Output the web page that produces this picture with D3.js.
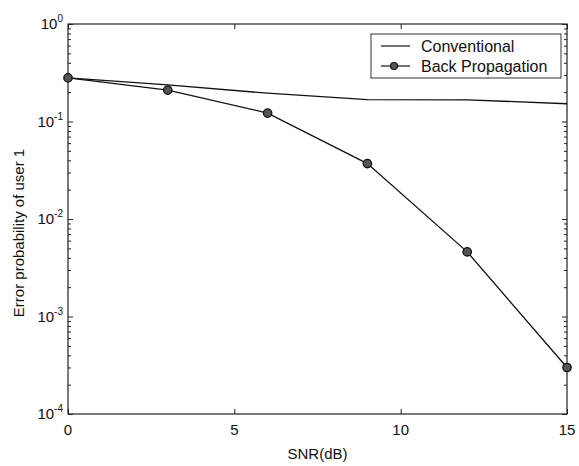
<!DOCTYPE html>
<html><head><meta charset="utf-8">
<script src="https://cdn.jsdelivr.net/npm/d3@7"></script>
<style>body{margin:0;background:#fff}svg{display:block}text{font-family:"Liberation Sans",Arial,sans-serif;fill:#111}</style>
</head><body>
<script>
const snr = [0, 3, 6, 9, 12, 15];
const conventional = [0.28, 0.237, 0.195, 0.168, 0.167, 0.152];
const backProp = [0.28, 0.21, 0.122, 0.037, 0.0046, 0.0003];
const xTicks = [0, 5, 10, 15];
const yDecades = [-4, -3, -2, -1, 0];
const seriesNames = ["Conventional", "Back Propagation"];

const W = 579, H = 466;
const m = {l: 68, r: 12, t: 24, b: 52};
const svg = d3.select("body").append("svg").attr("width", W).attr("height", H);
const x = d3.scaleLinear().domain([0, 15]).range([m.l, W - m.r]);
const y = d3.scaleLog().domain([1e-4, 1]).range([H - m.b, m.t]);

const minor = [];
for (let d = -4; d < 0; d++) for (let k = 2; k <= 9; k++) minor.push(k * Math.pow(10, d));
const majors = yDecades.map(d => Math.pow(10, d));

const g = svg.append("g");
function styleAxis(sel){ sel.select(".domain").remove(); sel.selectAll("line").attr("stroke","#222").attr("stroke-width",1); }

g.append("g").attr("transform",`translate(0,${H-m.b})`).call(d3.axisBottom(x).tickValues(xTicks).tickSize(-5).tickFormat("")).call(styleAxis);
g.append("g").attr("transform",`translate(0,${m.t})`).call(d3.axisTop(x).tickValues(xTicks).tickSize(-5).tickFormat("")).call(styleAxis);
g.append("g").attr("transform",`translate(${m.l},0)`).call(d3.axisLeft(y).tickValues(majors).tickSize(-5).tickFormat("")).call(styleAxis);
g.append("g").attr("transform",`translate(${m.l},0)`).call(d3.axisLeft(y).tickValues(minor).tickSize(-3).tickFormat("")).call(styleAxis);
g.append("g").attr("transform",`translate(${W-m.r},0)`).call(d3.axisRight(y).tickValues(majors).tickSize(-5).tickFormat("")).call(styleAxis);
g.append("g").attr("transform",`translate(${W-m.r},0)`).call(d3.axisRight(y).tickValues(minor).tickSize(-3).tickFormat("")).call(styleAxis);

svg.append("rect").attr("x", m.l).attr("y", m.t).attr("width", W-m.l-m.r).attr("height", H-m.t-m.b)
  .attr("fill","none").attr("stroke","#222").attr("stroke-width",1.2);

svg.selectAll(".xl").data(xTicks).enter().append("text")
  .attr("x", d => x(d)).attr("y", H - m.b + 21).attr("text-anchor","middle").attr("font-size",15).text(d => d);
svg.append("text").attr("x", (m.l + W - m.r)/2).attr("y", 459).attr("text-anchor","middle").attr("font-size",15).text("SNR(dB)");

yDecades.forEach(d => {
  const t = svg.append("text").attr("x", m.l - 5).attr("y", y(Math.pow(10,d)) + 5).attr("text-anchor","end").attr("font-size",15);
  t.append("tspan").text("10");
  t.append("tspan").attr("font-size",10).attr("dy",-7).text(String(d));
});
svg.append("text").attr("transform",`translate(24,${(m.t + H - m.b)/2 + 14}) rotate(-90)`).attr("text-anchor","middle").attr("font-size",15)
  .text("Error probability of user 1");

const line = d3.line().x((d,i) => x(snr[i])).y(d => y(d));
svg.append("path").datum(conventional).attr("d", line).attr("fill","none").attr("stroke","#111").attr("stroke-width",1.3);
svg.append("path").datum(backProp).attr("d", line).attr("fill","none").attr("stroke","#111").attr("stroke-width",1.3);
svg.selectAll(".mk").data(backProp).enter().append("circle")
  .attr("cx", (d,i) => x(snr[i])).attr("cy", d => y(d)).attr("r", 4.2)
  .attr("fill","#555").attr("stroke","#111").attr("stroke-width",1.3);

const lg = svg.append("g");
lg.append("rect").attr("x", 371).attr("y", 34).attr("width", 190).attr("height", 44).attr("fill","#fff").attr("stroke","#333").attr("stroke-width",1);
lg.append("line").attr("x1",381).attr("x2",410).attr("y1",46).attr("y2",46).attr("stroke","#111").attr("stroke-width",1.2);
lg.append("line").attr("x1",381).attr("x2",410).attr("y1",66).attr("y2",66).attr("stroke","#111").attr("stroke-width",1.2);
lg.append("circle").attr("cx",394).attr("cy",66).attr("r",3.5).attr("fill","#555").attr("stroke","#111").attr("stroke-width",1.2);
lg.selectAll(".lt").data(seriesNames).enter().append("text")
  .attr("x", 421).attr("y", (d,i) => 52 + i*20).attr("font-size",16).text(d => d);
</script>
</body></html>
